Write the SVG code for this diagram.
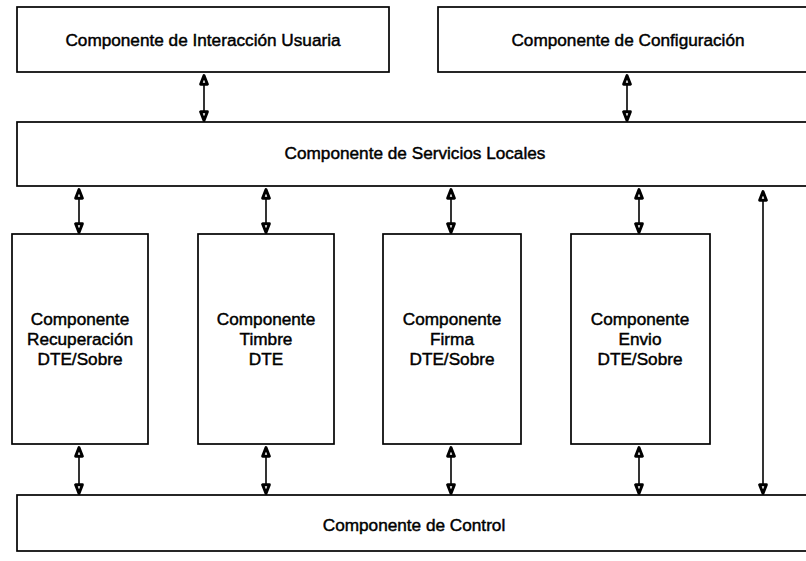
<svg xmlns="http://www.w3.org/2000/svg" width="806" height="561" viewBox="0 0 806 561">
  <style>
    .box { fill: #ffffff; stroke: #000000; stroke-width: 1.7; }
    .lbl { font-family: "Liberation Sans", Arial, sans-serif; font-size: 17.2px; fill: #000000; stroke: #000000; stroke-width: 0.45; text-anchor: middle; }
    .link { stroke: #000000; stroke-width: 1.6; fill: none; marker-start: url(#head); marker-end: url(#head); }
  </style>
  <defs>
    <!-- heavy arrowhead with a small white core -->
    <marker id="head" markerUnits="userSpaceOnUse" viewBox="0 0 12 10" markerWidth="12" markerHeight="10" refX="11" refY="5" orient="auto-start-reverse">
      <path d="M1.8,1.6 L10.4,5 L1.8,8.4 Z" fill="#ffffff" stroke="#000000" stroke-width="2.9" stroke-linejoin="round"/>
    </marker>
  </defs>
  <rect width="806" height="561" fill="#ffffff"/>

  <g id="interaccion">
    <rect class="box" x="17" y="7" width="372" height="65"/>
    <text class="lbl" x="203" y="46">Componente de Interacción Usuaria</text>
  </g>

  <g id="configuracion">
    <rect class="box" x="438" y="7" width="390" height="65"/>
    <text class="lbl" x="628" y="46">Componente de Configuración</text>
  </g>

  <g id="servicios">
    <rect class="box" x="17" y="122" width="800" height="64"/>
    <text class="lbl" x="415" y="159">Componente de Servicios Locales</text>
  </g>

  <g id="recuperacion">
    <rect class="box" x="12" y="234" width="136" height="210"/>
    <text class="lbl" x="80" y="325">Componente</text>
    <text class="lbl" x="80" y="345">Recuperación</text>
    <text class="lbl" x="80" y="365">DTE/Sobre</text>
  </g>

  <g id="timbre">
    <rect class="box" x="198" y="234" width="136" height="210"/>
    <text class="lbl" x="266" y="325">Componente</text>
    <text class="lbl" x="266" y="345">Timbre</text>
    <text class="lbl" x="266" y="365">DTE</text>
  </g>

  <g id="firma">
    <rect class="box" x="383" y="234" width="138" height="210"/>
    <text class="lbl" x="452" y="325">Componente</text>
    <text class="lbl" x="452" y="345">Firma</text>
    <text class="lbl" x="452" y="365">DTE/Sobre</text>
  </g>

  <g id="envio">
    <rect class="box" x="571" y="234" width="139" height="210"/>
    <text class="lbl" x="640" y="325">Componente</text>
    <text class="lbl" x="640" y="345">Envio</text>
    <text class="lbl" x="640" y="365">DTE/Sobre</text>
  </g>

  <g id="control">
    <rect class="box" x="17" y="495" width="800" height="56"/>
    <text class="lbl" x="414" y="531">Componente de Control</text>
  </g>

  <g id="connectors">
    <line class="link" x1="204" y1="75" x2="204" y2="121"/>
    <line class="link" x1="627" y1="75" x2="627" y2="121"/>
    <line class="link" x1="79" y1="189" x2="79" y2="233"/>
    <line class="link" x1="266" y1="189" x2="266" y2="233"/>
    <line class="link" x1="451" y1="189" x2="451" y2="233"/>
    <line class="link" x1="639" y1="189" x2="639" y2="233"/>
    <line class="link" x1="79" y1="447" x2="79" y2="494"/>
    <line class="link" x1="266" y1="447" x2="266" y2="494"/>
    <line class="link" x1="451" y1="447" x2="451" y2="494"/>
    <line class="link" x1="639" y1="447" x2="639" y2="494"/>
    <line class="link" x1="763" y1="191" x2="763" y2="494"/>
  </g>
</svg>
